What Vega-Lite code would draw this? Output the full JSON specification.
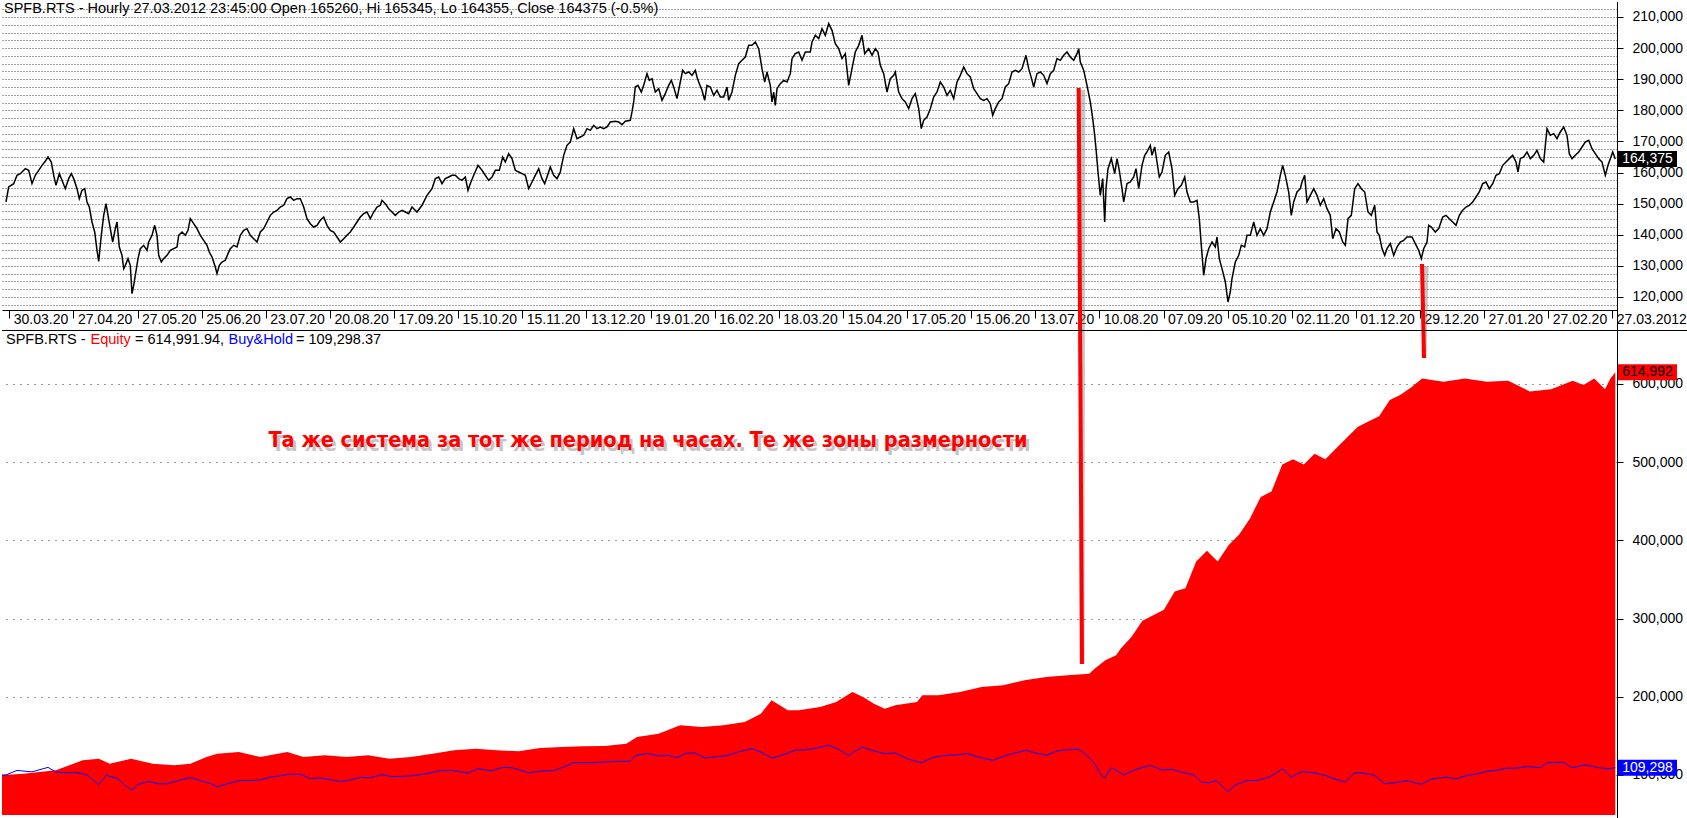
{
"$schema": "https://vega.github.io/schema/vega-lite/v6.json",
"width": 1615,
"height": 818,
"padding": 0,
"autosize": {"type": "pad"},
"background": "#ffffff",
"config": {"view": {"stroke": null}, "font": "Liberation Sans", "axis": {"labelFont": "Liberation Sans", "labelColor": "#000000", "domainColor": "#000000", "tickColor": "#000000", "title": null}},
"datasets": {
"price": [
{"x":4,"p":150540},{"x":6.7,"p":155360},{"x":11.7,"p":156430},{"x":15,"p":159110},{"x":18.3,"p":159640},{"x":23.3,"p":161250},{"x":26.7,"p":160720},{"x":30,"p":156430},{"x":33.3,"p":159110},{"x":36.7,"p":160720},{"x":40,"p":162320},{"x":43.3,"p":163610},{"x":46,"p":165000},{"x":49.3,"p":163390},{"x":51.7,"p":159110},{"x":54,"p":155890},{"x":57.3,"p":159640},{"x":60,"p":157500},{"x":63.3,"p":154820},{"x":66.7,"p":158040},{"x":69.3,"p":159640},{"x":71.7,"p":158040},{"x":75,"p":154820},{"x":77.3,"p":151610},{"x":80,"p":154290},{"x":82.7,"p":154820},{"x":85,"p":150540},{"x":87.3,"p":148930},{"x":90,"p":144110},{"x":92.7,"p":140890},{"x":95,"p":135000},{"x":96.7,"p":131470},{"x":99.3,"p":139820},{"x":101.7,"p":146250},{"x":104,"p":150000},{"x":106,"p":146250},{"x":108.3,"p":141970},{"x":110.7,"p":137680},{"x":113.3,"p":141970},{"x":115,"p":144110},{"x":117.3,"p":136070},{"x":120,"p":133390},{"x":121.7,"p":129110},{"x":123.3,"p":130180},{"x":126,"p":132320},{"x":128.3,"p":130180},{"x":130,"p":121070},{"x":131.7,"p":123750},{"x":133.3,"p":126970},{"x":136,"p":132320},{"x":138.3,"p":135540},{"x":141.7,"p":136610},{"x":145,"p":135000},{"x":146.7,"p":137680},{"x":150,"p":139820},{"x":152.7,"p":143040},{"x":155,"p":139820},{"x":156.7,"p":133390},{"x":159.3,"p":131250},{"x":161.7,"p":132320},{"x":165,"p":133390},{"x":168.3,"p":135000},{"x":171.7,"p":135540},{"x":175,"p":136070},{"x":176.7,"p":139820},{"x":180,"p":140890},{"x":183.3,"p":139820},{"x":186,"p":141430},{"x":188.3,"p":145180},{"x":191.7,"p":143570},{"x":195,"p":141970},{"x":198.3,"p":139820},{"x":201.7,"p":138220},{"x":205,"p":136610},{"x":207.3,"p":134470},{"x":210,"p":132860},{"x":213.3,"p":129650},{"x":215,"p":127500},{"x":217.3,"p":130180},{"x":220,"p":131250},{"x":223.3,"p":131790},{"x":226,"p":133930},{"x":228.3,"p":135540},{"x":231.7,"p":136610},{"x":235,"p":136070},{"x":238.3,"p":139820},{"x":241.7,"p":141430},{"x":245,"p":141970},{"x":248.3,"p":139820},{"x":251.7,"p":138750},{"x":255,"p":137680},{"x":258.3,"p":140890},{"x":261.7,"p":141970},{"x":265,"p":144110},{"x":268.3,"p":146250},{"x":271.7,"p":147320},{"x":275,"p":147860},{"x":278.3,"p":148930},{"x":281.7,"p":149470},{"x":285,"p":151610},{"x":288.3,"p":152140},{"x":291.7,"p":151070},{"x":295,"p":151610},{"x":298.3,"p":151610},{"x":301.7,"p":148930},{"x":305,"p":145180},{"x":308.3,"p":143570},{"x":311.7,"p":142500},{"x":315,"p":143040},{"x":318.3,"p":144640},{"x":321.7,"p":145720},{"x":325,"p":143040},{"x":328.3,"p":141430},{"x":331.7,"p":140890},{"x":335,"p":139290},{"x":338.3,"p":137680},{"x":341.7,"p":138750},{"x":345,"p":139820},{"x":348.3,"p":140890},{"x":351.7,"p":142500},{"x":355,"p":144110},{"x":358.3,"p":145720},{"x":361.7,"p":146790},{"x":365,"p":147320},{"x":368.3,"p":145180},{"x":371.7,"p":147320},{"x":375,"p":148930},{"x":378.3,"p":149470},{"x":380,"p":151070},{"x":383.3,"p":150000},{"x":386.7,"p":148390},{"x":390,"p":147320},{"x":393.3,"p":146250},{"x":396.7,"p":147320},{"x":400,"p":147860},{"x":403.3,"p":147320},{"x":406.7,"p":146790},
{"x":410,"p":148930},{"x":415,"p":147320},{"x":420,"p":149470},{"x":425,"p":152680},{"x":430,"p":154820},{"x":433.3,"p":158040},{"x":436.7,"p":158570},{"x":440,"p":156430},{"x":443.3,"p":158040},{"x":446.7,"p":158570},{"x":450,"p":159110},{"x":453.3,"p":159110},{"x":456.7,"p":158040},{"x":460,"p":157500},{"x":463.3,"p":158570},{"x":466,"p":154290},{"x":468.3,"p":156430},{"x":471.7,"p":159110},{"x":476,"p":162320},{"x":480,"p":160720},{"x":483.3,"p":159110},{"x":486.7,"p":157500},{"x":490,"p":158570},{"x":493.3,"p":160720},{"x":497.3,"p":160720},{"x":500.7,"p":165000},{"x":503.3,"p":163390},{"x":506.7,"p":166070},{"x":510,"p":164470},{"x":513.3,"p":160720},{"x":516.7,"p":160180},{"x":520,"p":159640},{"x":523.3,"p":159110},{"x":526.7,"p":154820},{"x":530,"p":156970},{"x":533.3,"p":159110},{"x":536.7,"p":161250},{"x":540,"p":158040},{"x":542.7,"p":156430},{"x":545,"p":158570},{"x":548.3,"p":161790},{"x":551.7,"p":159110},{"x":555,"p":158040},{"x":558.3,"p":160180},{"x":561.7,"p":165540},{"x":565,"p":168750},{"x":568.3,"p":169820},{"x":571.7,"p":174110},{"x":575,"p":170890},{"x":578.3,"p":171430},{"x":581.7,"p":171970},{"x":585,"p":174110},{"x":588.3,"p":173570},{"x":591.7,"p":175180},{"x":595,"p":174110},{"x":598.3,"p":174640},{"x":601.7,"p":174110},{"x":605,"p":174640},{"x":608.3,"p":176250},{"x":613.3,"p":176470},{"x":616.7,"p":176250},{"x":620,"p":175390},{"x":623.3,"p":176470},{"x":628.3,"p":176790},{"x":630,"p":179470},{"x":631.7,"p":182680},{"x":633.3,"p":187500},{"x":636,"p":188040},{"x":639.3,"p":185890},{"x":641.7,"p":188040},{"x":645,"p":191790},{"x":647.3,"p":189640},{"x":650,"p":190180},{"x":653.3,"p":185890},{"x":656.7,"p":186970},{"x":660,"p":183220},{"x":663.3,"p":185360},{"x":666.7,"p":188040},{"x":669.3,"p":189640},{"x":671.7,"p":187500},{"x":675,"p":183750},{"x":678.3,"p":189110},{"x":680.7,"p":192860},{"x":683.3,"p":191790},{"x":686.7,"p":192320},{"x":690,"p":191250},{"x":693.3,"p":192860},{"x":695,"p":190710},{"x":696.7,"p":189110},{"x":700,"p":186430},{"x":702.7,"p":183220},{"x":705,"p":188040},{"x":708.3,"p":187500},{"x":711.7,"p":184820},{"x":715,"p":186430},{"x":718.3,"p":184290},{"x":721.7,"p":184290},{"x":725,"p":187500},{"x":726.7,"p":183220},{"x":730,"p":185890},{"x":733.3,"p":191250},{"x":736.7,"p":195000},{"x":740,"p":196070},{"x":743.3,"p":197140},{"x":746.7,"p":200890},{"x":750,"p":200890},{"x":753.3,"p":201960},{"x":756.7,"p":199820},{"x":760,"p":193390},{"x":762.7,"p":189110},{"x":765,"p":192320},{"x":768.3,"p":188040},{"x":770,"p":182680},{"x":771.7,"p":185890},{"x":773.3,"p":181610},{"x":775,"p":186970},{"x":778.3,"p":188570},{"x":781.7,"p":189640},{"x":785,"p":189110},{"x":788.3,"p":191790},{"x":790,"p":196610},{"x":793.3,"p":198210},{"x":796.7,"p":198750},{"x":800,"p":196070},{"x":803.3,"p":198750},{"x":808.3,"p":198750},{"x":810,"p":201960},{"x":813.3,"p":204110},{"x":816.7,"p":203040},
{"x":820,"p":206250},{"x":823.3,"p":204110},{"x":826.7,"p":207860},{"x":830,"p":205710},{"x":833.3,"p":201430},{"x":836.7,"p":199820},{"x":840,"p":196610},{"x":843.3,"p":198210},{"x":846.7,"p":188040},{"x":850,"p":193390},{"x":853.3,"p":198750},{"x":856.7,"p":200890},{"x":860,"p":204110},{"x":862.7,"p":198210},{"x":866.7,"p":199820},{"x":870,"p":197680},{"x":873.3,"p":199820},{"x":876,"p":198750},{"x":878.3,"p":194460},{"x":881.7,"p":191790},{"x":885,"p":185890},{"x":888.3,"p":190180},{"x":891.7,"p":191250},{"x":893.3,"p":192320},{"x":896.7,"p":185890},{"x":900,"p":183750},{"x":903.3,"p":182680},{"x":906.7,"p":180540},{"x":910,"p":183750},{"x":913.3,"p":185360},{"x":916.7,"p":180540},{"x":919.3,"p":174110},{"x":921.7,"p":176790},{"x":925,"p":177860},{"x":928.3,"p":180540},{"x":931.7,"p":184290},{"x":935,"p":185890},{"x":938.3,"p":189110},{"x":941.7,"p":187500},{"x":945,"p":184820},{"x":948.3,"p":186430},{"x":951.7,"p":183750},{"x":955,"p":189110},{"x":958.3,"p":191250},{"x":961.7,"p":193930},{"x":965,"p":191790},{"x":968.3,"p":190710},{"x":971.7,"p":186970},{"x":975,"p":185360},{"x":978.3,"p":183750},{"x":981.7,"p":183220},{"x":985,"p":183750},{"x":988.3,"p":182140},{"x":990.7,"p":178390},{"x":993.3,"p":180540},{"x":996.7,"p":182680},{"x":1000,"p":183750},{"x":1003.3,"p":187500},{"x":1006.7,"p":188570},{"x":1010,"p":192320},{"x":1013.3,"p":192860},{"x":1016.7,"p":192320},{"x":1020,"p":193390},{"x":1024,"p":197680},{"x":1026.7,"p":193390},{"x":1030,"p":189640},{"x":1031.7,"p":187500},{"x":1035,"p":191790},{"x":1038.3,"p":192320},{"x":1041.7,"p":191250},{"x":1045,"p":188570},{"x":1048.3,"p":191790},{"x":1051.7,"p":192860},{"x":1055,"p":196610},{"x":1058.3,"p":196070},{"x":1061.7,"p":197680},{"x":1065,"p":198750},{"x":1068.3,"p":197140},{"x":1071.7,"p":196070},{"x":1075,"p":198210},{"x":1076.7,"p":199820},{"x":1078.3,"p":195540},{"x":1081.7,"p":192860},{"x":1085,"p":188040},{"x":1088.3,"p":182680},{"x":1090.7,"p":177320},{"x":1092.7,"p":171970},{"x":1094,"p":167680},{"x":1096,"p":160180},{"x":1098.3,"p":152680},{"x":1100.7,"p":158040},{"x":1102.7,"p":144110},{"x":1104,"p":154820},{"x":1106,"p":161250},{"x":1109.3,"p":164470},{"x":1112.7,"p":159640},{"x":1115,"p":164470},{"x":1117.3,"p":160720},{"x":1120,"p":154820},{"x":1121.7,"p":150540},{"x":1125,"p":156430},{"x":1128.3,"p":156970},{"x":1131.7,"p":158570},{"x":1134,"p":161250},{"x":1136.7,"p":154820},{"x":1140,"p":162320},{"x":1142.7,"p":165540},{"x":1145,"p":166610},{"x":1148.3,"p":168750},{"x":1150,"p":165540},{"x":1152.7,"p":168220},{"x":1155,"p":163390},{"x":1157.3,"p":158570},{"x":1160,"p":160180},{"x":1163.3,"p":165540},{"x":1166.7,"p":166610},{"x":1170,"p":161250},{"x":1172.7,"p":152680},{"x":1176,"p":154820},{"x":1179.3,"p":155890},{"x":1182.7,"p":158570},{"x":1185,"p":153750},{"x":1188.3,"p":150540},{"x":1191.7,"p":150540},{"x":1195,"p":151070},{"x":1197.3,"p":145180},{"x":1199.3,"p":136610},{"x":1201.7,"p":126970},{"x":1204,"p":132320},{"x":1206.7,"p":135540},{"x":1210,"p":137680},{"x":1213.3,"p":136070},{"x":1215,"p":139290},{"x":1217.3,"p":132320},{"x":1220,"p":129110},{"x":1223.3,"p":124820},{"x":1226,"p":118400},{"x":1228.3,"p":121610},
{"x":1230,"p":125900},{"x":1233.3,"p":131250},{"x":1236.7,"p":133390},{"x":1239.3,"p":136610},{"x":1242.7,"p":136070},{"x":1245,"p":139820},{"x":1248.3,"p":139820},{"x":1251.7,"p":144110},{"x":1255,"p":139820},{"x":1258.3,"p":141970},{"x":1261.7,"p":139820},{"x":1265,"p":141970},{"x":1268.3,"p":147320},{"x":1271.7,"p":150540},{"x":1275,"p":153750},{"x":1278.3,"p":159110},{"x":1280.7,"p":162320},{"x":1283.3,"p":159110},{"x":1286.7,"p":153750},{"x":1289.3,"p":146250},{"x":1291.7,"p":150540},{"x":1295,"p":153750},{"x":1298.3,"p":154820},{"x":1300,"p":156970},{"x":1302.7,"p":159110},{"x":1305,"p":150540},{"x":1308.3,"p":152680},{"x":1311.7,"p":154820},{"x":1315,"p":152680},{"x":1318.3,"p":149470},{"x":1321.7,"p":151610},{"x":1325,"p":148390},{"x":1328.3,"p":146250},{"x":1330.7,"p":138750},{"x":1334,"p":141970},{"x":1337.3,"p":140890},{"x":1340.7,"p":137680},{"x":1343.3,"p":136610},{"x":1346,"p":145180},{"x":1349.3,"p":146250},{"x":1352.7,"p":154820},{"x":1356,"p":156430},{"x":1359.3,"p":154820},{"x":1362.7,"p":153750},{"x":1366,"p":147320},{"x":1369.3,"p":146250},{"x":1372.7,"p":149470},{"x":1375,"p":140890},{"x":1377.3,"p":139820},{"x":1380,"p":135540},{"x":1382.7,"p":133390},{"x":1385,"p":135540},{"x":1388.3,"p":137150},{"x":1391.7,"p":133390},{"x":1395,"p":136070},{"x":1398.3,"p":137680},{"x":1401.7,"p":138220},{"x":1405,"p":139290},{"x":1410,"p":139290},{"x":1413.3,"p":137150},{"x":1416.7,"p":135000},{"x":1419.3,"p":132320},{"x":1421.7,"p":135540},{"x":1425,"p":137680},{"x":1426.7,"p":143040},{"x":1429.3,"p":142500},{"x":1433.3,"p":140890},{"x":1436.7,"p":141970},{"x":1440.7,"p":145720},{"x":1444,"p":146250},{"x":1447.3,"p":145180},{"x":1450.7,"p":144110},{"x":1454,"p":143040},{"x":1457.3,"p":146250},{"x":1460.7,"p":147860},{"x":1464,"p":148930},{"x":1467.3,"p":149470},{"x":1470.7,"p":150540},{"x":1474,"p":152140},{"x":1477.3,"p":153750},{"x":1480.7,"p":156430},{"x":1484,"p":156970},{"x":1487.3,"p":154820},{"x":1490.7,"p":156430},{"x":1494,"p":159110},{"x":1497.3,"p":159640},{"x":1500.7,"p":162320},{"x":1504,"p":163390},{"x":1507.3,"p":164470},{"x":1510.7,"p":165540},{"x":1514,"p":163390},{"x":1516,"p":160180},{"x":1518.3,"p":164470},{"x":1521.7,"p":165000},{"x":1525,"p":166610},{"x":1528.3,"p":164470},{"x":1531.7,"p":165540},{"x":1535,"p":167140},{"x":1538.3,"p":164470},{"x":1541.7,"p":163390},{"x":1545,"p":174110},{"x":1548.3,"p":171970},{"x":1551.7,"p":172500},{"x":1555,"p":170890},{"x":1558.3,"p":173040},{"x":1561.7,"p":174640},{"x":1565,"p":171970},{"x":1567.3,"p":166070},{"x":1570,"p":164470},{"x":1573.3,"p":165540},{"x":1576.7,"p":166610},{"x":1580,"p":168220},{"x":1583.3,"p":169820},{"x":1586.7,"p":170360},{"x":1590,"p":167680},{"x":1593.3,"p":166070},{"x":1596.7,"p":164470},{"x":1600,"p":163390},{"x":1603.3,"p":159110},{"x":1606,"p":162320},{"x":1608.3,"p":164470},{"x":1610.7,"p":166610},{"x":1613.3,"p":164375}
],
"bh": [
{"x":0,"b":100000},{"x":4,"b":100110},{"x":15,"b":105810},{"x":30,"b":104030},{"x":46,"b":109720},{"x":54,"b":103670},{"x":63.3,"b":102960},{"x":75,"b":102960},{"x":85,"b":100110},{"x":96.7,"b":87430},{"x":104,"b":99750},{"x":115,"b":95830},{"x":123.3,"b":86570},{"x":130,"b":80510},{"x":136,"b":87990},{"x":146.7,"b":91560},{"x":156.7,"b":88700},{"x":165,"b":88700},{"x":176.7,"b":92980},{"x":188.3,"b":96540},{"x":198.3,"b":92980},{"x":210,"b":88350},{"x":215,"b":84790},{"x":226,"b":89060},{"x":238.3,"b":92980},{"x":248.3,"b":92980},{"x":258.3,"b":93690},{"x":268.3,"b":97260},{"x":278.3,"b":99040},{"x":288.3,"b":101170},{"x":298.3,"b":100820},{"x":308.3,"b":95480},{"x":318.3,"b":96190},{"x":328.3,"b":94050},{"x":338.3,"b":91560},{"x":348.3,"b":93690},{"x":358.3,"b":96900},{"x":368.3,"b":96540},{"x":380,"b":100460},{"x":390,"b":97970},{"x":400,"b":98330},{"x":410,"b":99040},{"x":425,"b":101530},{"x":436.7,"b":105450},{"x":450,"b":105810},{"x":466,"b":102600},{"x":476,"b":107940},{"x":490,"b":105450},{"x":500.7,"b":109720},{"x":510,"b":109370},{"x":526.7,"b":102960},{"x":540,"b":105100},{"x":551.7,"b":105810},{"x":561.7,"b":110080},{"x":571.7,"b":115780},{"x":585,"b":115780},{"x":598.3,"b":116140},{"x":613.3,"b":117350},{"x":628.3,"b":117570},{"x":633.3,"b":124690},{"x":645,"b":127540},{"x":656.7,"b":124340},{"x":666.7,"b":125050},{"x":675,"b":122190},{"x":683.3,"b":127540},{"x":693.3,"b":128250},{"x":702.7,"b":121840},{"x":711.7,"b":122910},{"x":725,"b":124690},{"x":736.7,"b":129680},{"x":750,"b":133590},{"x":760,"b":128600},{"x":770,"b":121480},{"x":781.7,"b":126110},{"x":793.3,"b":131810},{"x":803.3,"b":132170},{"x":816.7,"b":135020},{"x":826.7,"b":138230},{"x":836.7,"b":132880},{"x":846.7,"b":125050},{"x":860,"b":135730},{"x":870,"b":131460},{"x":881.7,"b":127540},{"x":893.3,"b":127890},{"x":906.7,"b":120060},{"x":919.3,"b":115780},{"x":931.7,"b":122550},{"x":941.7,"b":124690},{"x":955,"b":125760},{"x":965,"b":127540},{"x":978.3,"b":122190},{"x":990.7,"b":118630},{"x":1003.3,"b":124690},{"x":1013.3,"b":128250},{"x":1024,"b":131460},{"x":1035,"b":127540},{"x":1045,"b":125400},{"x":1055,"b":130750},{"x":1065,"b":132170},{"x":1076.7,"b":132880},{"x":1085,"b":125050},{"x":1092.7,"b":114360},{"x":1098.3,"b":101530},{"x":1102.7,"b":95830},{"x":1109.3,"b":109370},{"x":1121.7,"b":100110},{"x":1134,"b":107230},{"x":1148.3,"b":112220},{"x":1160,"b":106520},{"x":1170,"b":107230},{"x":1179.3,"b":103670},{"x":1191.7,"b":100110},{"x":1199.3,"b":90850},{"x":1206.7,"b":90130},{"x":1215,"b":92630},{"x":1220,"b":85860},{"x":1226,"b":78740},{"x":1233.3,"b":87280},{"x":1245,"b":92980},{"x":1255,"b":92980},{"x":1268.3,"b":97970},{"x":1280.7,"b":107940},{"x":1289.3,"b":97260},{"x":1300,"b":104390},{"x":1311.7,"b":102960},{"x":1325,"b":98680},{"x":1334,"b":94410},{"x":1343.3,"b":90850},{"x":1352.7,"b":102960},{"x":1362.7,"b":102240},{"x":1372.7,"b":99400},{"x":1382.7,"b":88700},{"x":1395,"b":90490},{"x":1405,"b":92630},{"x":1419.3,"b":87990},{"x":1429.3,"b":94760},{"x":1444,"b":97260},{"x":1454,"b":95120},{"x":1464,"b":99040},{"x":1474,"b":101170},{"x":1484,"b":104390},{"x":1494,"b":105810},{"x":1504,"b":108650},{"x":1514,"b":108650},{"x":1525,"b":110790},{"x":1538.3,"b":109370},{"x":1545,"b":115780},{"x":1561.7,"b":116140},{"x":1570,"b":109370},{"x":1583.3,"b":112930},{"x":1596.7,"b":109370},{"x":1606,"b":107940},{"x":1613.3,"b":109298}
],
"equity": [
{"x":0,"e":100000},{"x":5.4,"e":100200},{"x":21.5,"e":101700},{"x":53.8,"e":105960},{"x":80.7,"e":118750},{"x":96.9,"e":120880},{"x":107.6,"e":114480},{"x":129.2,"e":120880},{"x":150.7,"e":114480},{"x":172.2,"e":112350},{"x":188.4,"e":114480},{"x":204.5,"e":123010},{"x":215.3,"e":127270},{"x":236.8,"e":129400},{"x":258.3,"e":123010},{"x":285.3,"e":129400},{"x":301.4,"e":123010},{"x":322.9,"e":125140},{"x":344.5,"e":123010},{"x":366,"e":125140},{"x":387.5,"e":120880},{"x":409,"e":123010},{"x":430.6,"e":127270},{"x":452.1,"e":131530},{"x":473.6,"e":133660},{"x":495.2,"e":131530},{"x":516.7,"e":130250},{"x":538.2,"e":134510},{"x":559.7,"e":135790},{"x":581.3,"e":136650},{"x":602.8,"e":137070},{"x":624.3,"e":140050},{"x":635.1,"e":148580},{"x":656.6,"e":152850},{"x":678.1,"e":163500},{"x":699.7,"e":161380},{"x":721.2,"e":163500},{"x":742.7,"e":167760},{"x":758.9,"e":178420},{"x":769.6,"e":195470},{"x":785.8,"e":182680},{"x":796.6,"e":182680},{"x":818.1,"e":186950},{"x":834.2,"e":193340},{"x":850.4,"e":206130},{"x":861.1,"e":199730},{"x":871.9,"e":191210},{"x":882.7,"e":184820},{"x":893.4,"e":189080},{"x":915,"e":193340},{"x":920.3,"e":201870},{"x":936.5,"e":201870},{"x":958,"e":206130},{"x":979.5,"e":212520},{"x":1001.1,"e":214660},{"x":1022.6,"e":221050},{"x":1044.1,"e":225310},{"x":1065.7,"e":227440},{"x":1087.2,"e":229580},{"x":1092.6,"e":235970},{"x":1103.3,"e":246630},{"x":1114.1,"e":253020},{"x":1119,"e":262000},{"x":1129.6,"e":276800},{"x":1140.4,"e":297400},{"x":1151.2,"e":304300},{"x":1161.9,"e":311200},{"x":1172.7,"e":334600},{"x":1183.4,"e":338700},{"x":1194.2,"e":373100},{"x":1204.9,"e":386800},{"x":1215.7,"e":373100},{"x":1226.5,"e":393700},{"x":1237.2,"e":407500},{"x":1248,"e":428100},{"x":1258.7,"e":455600},{"x":1269.5,"e":462600},{"x":1280.3,"e":496900},{"x":1291,"e":503800},{"x":1301.8,"e":496900},{"x":1312.5,"e":510700},{"x":1323.3,"e":503800},{"x":1334,"e":517500},{"x":1344.8,"e":531300},{"x":1355.6,"e":545000},{"x":1366.3,"e":551900},{"x":1377.1,"e":558800},{"x":1387.8,"e":579500},{"x":1398.6,"e":586300},{"x":1409.4,"e":596000},{"x":1420.1,"e":607000},{"x":1441.6,"e":602800},{"x":1463.1,"e":607000},{"x":1484.7,"e":602800},{"x":1506.2,"e":604200},{"x":1527.7,"e":590500},{"x":1549.2,"e":593200},{"x":1570.7,"e":604200},{"x":1581.5,"e":598700},{"x":1592.3,"e":607000},{"x":1603,"e":593200},{"x":1608.4,"e":607000},{"x":1613.3,"e":614992}
]
},
"layer": [
{"data": {"name": "price"},
 "mark": {"type": "line", "color": "#000000", "strokeWidth": 1.5},
 "encoding": {
  "x": {"field": "x", "type": "quantitative", "scale": {"domain": [0, 1615], "nice": false, "zero": false},
   "axis": {"orient": "bottom", "offset": -510, "values": [7.3,71.4,135.5,199.7,263.8,327.9,392,456.1,520.3,584.4,648.5,712.6,776.7,840.9,905,969.1,1033.2,1097.3,1161.5,1225.6,1289.7,1353.8,1417.9,1482.1,1546.2,1610.3],
    "labelExpr": "['30.03.20','27.04.20','27.05.20','25.06.20','23.07.20','20.08.20','17.09.20','15.10.20','15.11.20','13.12.20','19.01.20','16.02.20','18.03.20','15.04.20','17.05.20','15.06.20','13.07.20','10.08.20','07.09.20','05.10.20','02.11.20','01.12.20','29.12.20','27.01.20','27.02.20','27.03.2012'][round((datum.value-7.3)/64.12)]",
    "labelAlign": "left", "labelOffset": 4, "labelFlush": false, "labelOverlap": false, "labelBound": false, "labelFontSize": 14, "tickSize": 8, "labelPadding": -6, "grid": false, "domainWidth": 1}},
  "y": {"field": "p", "type": "quantitative", "scale": {"domain": [115821, 214821], "range": [308, 0], "nice": false, "zero": false},
   "axis": {"orient": "right", "values": [117500,120000,122500,125000,127500,130000,132500,135000,137500,140000,142500,145000,147500,150000,152500,155000,157500,160000,162500,165000,167500,170000,172500,175000,177500,180000,182500,185000,187500,190000,192500,195000,197500,200000,202500,205000,207500,210000,212500],
    "format": ",d",
    "labelExpr": "datum.value % 10000 == 0 ? datum.label : ''",
    "tickOpacity": {"condition": {"test": "datum.value % 10000 == 0", "value": 1}, "value": 0},
    "tickSize": 6, "labelPadding": 9, "labelFontSize": 14, "labelOverlap": false, "labelBaseline": "middle",
    "grid": true, "gridDash": [1, 2], "gridColor": "#000000", "gridOpacity": 0.75, "gridWidth": 1}}
 }},
{
"layer": [
{"data": {"name": "equity"},
 "mark": {"type": "area", "color": "#ff0000", "opacity": 1},
 "encoding": {
  "x": {"field": "x", "type": "quantitative"},
  "y": {"field": "e", "type": "quantitative", "scale": {"domain": [48837, 662660], "range": [813, 333], "nice": false, "zero": false},
   "axis": {"orient": "right", "values": [100000,200000,300000,400000,500000,600000], "format": ",d", "tickSize": 6, "labelPadding": 9, "labelFontSize": 14, "labelOverlap": false, "labelBaseline": "middle",
    "grid": true, "gridDash": [1, 6], "gridColor": "#000000", "gridOpacity": 0.8, "gridWidth": 1}},
  "y2": {"datum": 48837}
 }},
{"data": {"name": "bh"},
 "mark": {"type": "line", "color": "#0000ff", "strokeWidth": 1},
 "encoding": {"x": {"field": "x", "type": "quantitative"}, "y": {"field": "b", "type": "quantitative"}}},
{"data": {"values": [{}]},
 "mark": {"type": "text", "align": "left", "baseline": "top", "fontSize": 14.5, "color": "#000000", "font": "Liberation Sans"},
 "encoding": {"x": {"datum": 2, "type": "quantitative"}, "y": {"datum": 1088500, "type": "quantitative"},
  "text": {"value": "SPFB.RTS - Hourly 27.03.2012 23:45:00 Open 165260, Hi 165345, Lo 164355, Close 164375 (-0.5%)"}}},
{"data": {"values": [{}]},
 "mark": {"type": "rect", "color": "#000000"},
 "encoding": {"x": {"datum": 1616, "type": "quantitative"}, "x2": {"datum": 1675}, "y": {"datum": 898090, "type": "quantitative"}, "y2": {"datum": 877630}}},
{"data": {"values": [{}]},
 "mark": {"type": "text", "align": "center", "baseline": "middle", "fontSize": 14, "color": "#ffffff", "font": "Liberation Sans"},
 "encoding": {"x": {"datum": 1645.5, "type": "quantitative"}, "y": {"datum": 887860, "type": "quantitative"}, "text": {"value": "164,375"}}},
{"data": {"values": [{}]},
 "mark": {"type": "text", "align": "center", "baseline": "middle", "fontSize": 21.5, "fontWeight": "bold", "color": "#808080", "opacity": 0.45, "dx": 3, "dy": 4, "font": "Liberation Sans Narrow, Arial Narrow, DejaVu Sans Condensed, sans-serif"},
 "encoding": {"x": {"datum": 646, "type": "quantitative"}, "y": {"datum": 527110, "type": "quantitative"}, "text": {"value": "Та же система за тот же период на часах. Те же зоны размерности"}}},
{"data": {"values": [{}]},
 "mark": {"type": "text", "align": "center", "baseline": "middle", "fontSize": 21.5, "fontWeight": "bold", "color": "#ff0000", "font": "Liberation Sans Narrow, Arial Narrow, DejaVu Sans Condensed, sans-serif"},
 "encoding": {"x": {"datum": 646, "type": "quantitative"}, "y": {"datum": 527110, "type": "quantitative"}, "text": {"value": "Та же система за тот же период на часах. Те же зоны размерности"}}},
{"data": {"values": [{}]},
 "mark": {"type": "rule", "color": "#808080", "opacity": 0.45, "strokeWidth": 5, "xOffset": 4, "yOffset": 2},
 "encoding": {"x": {"datum": 1076.7, "type": "quantitative"}, "x2": {"datum": 1080}, "y": {"datum": 978520, "type": "quantitative"}, "y2": {"datum": 241940}}},
{"data": {"values": [{}]},
 "mark": {"type": "rule", "color": "#ff0000", "strokeWidth": 4},
 "encoding": {"x": {"datum": 1076.7, "type": "quantitative"}, "x2": {"datum": 1080}, "y": {"datum": 978520, "type": "quantitative"}, "y2": {"datum": 241940}}},
{"data": {"values": [{}]},
 "mark": {"type": "rule", "color": "#808080", "opacity": 0.45, "strokeWidth": 5, "xOffset": 4, "yOffset": 2},
 "encoding": {"x": {"datum": 1420, "type": "quantitative"}, "x2": {"datum": 1422}, "y": {"datum": 753460, "type": "quantitative"}, "y2": {"datum": 633250}}},
{"data": {"values": [{}]},
 "mark": {"type": "rule", "color": "#ff0000", "strokeWidth": 4},
 "encoding": {"x": {"datum": 1420, "type": "quantitative"}, "x2": {"datum": 1422}, "y": {"datum": 753460, "type": "quantitative"}, "y2": {"datum": 633250}}},
{"data": {"values": [{}]},
 "mark": {"type": "rule", "color": "#000000", "strokeWidth": 1},
 "encoding": {"x": {"datum": 0, "type": "quantitative"}, "x2": {"datum": 1687}, "y": {"datum": 668420, "type": "quantitative"}}},
{"data": {"values": [{}]},
 "mark": {"type": "rule", "color": "#000000", "strokeWidth": 1},
 "encoding": {"x": {"datum": 1615.5, "type": "quantitative"}, "y": {"datum": 1088500, "type": "quantitative"}, "y2": {"datum": 42440}}},
{"data": {"values": [{}]},
 "mark": {"type": "text", "align": "left", "baseline": "top", "fontSize": 14.5, "color": "#000000", "font": "Liberation Sans"},
 "encoding": {"x": {"datum": 4, "type": "quantitative"}, "y": {"datum": 665220, "type": "quantitative"}, "text": {"value": "SPFB.RTS -"}}},
{"data": {"values": [{}]},
 "mark": {"type": "text", "align": "left", "baseline": "top", "fontSize": 14.5, "color": "#ff0000", "font": "Liberation Sans"},
 "encoding": {"x": {"datum": 88.5, "type": "quantitative"}, "y": {"datum": 665220, "type": "quantitative"}, "text": {"value": "Equity"}}},
{"data": {"values": [{}]},
 "mark": {"type": "text", "align": "left", "baseline": "top", "fontSize": 14.5, "color": "#000000", "font": "Liberation Sans"},
 "encoding": {"x": {"datum": 133, "type": "quantitative"}, "y": {"datum": 665220, "type": "quantitative"}, "text": {"value": "= 614,991.94,"}}},
{"data": {"values": [{}]},
 "mark": {"type": "text", "align": "left", "baseline": "top", "fontSize": 14.5, "color": "#0000ff", "font": "Liberation Sans"},
 "encoding": {"x": {"datum": 226.5, "type": "quantitative"}, "y": {"datum": 665220, "type": "quantitative"}, "text": {"value": "Buy&Hold"}}},
{"data": {"values": [{}]},
 "mark": {"type": "text", "align": "left", "baseline": "top", "fontSize": 14.5, "color": "#000000", "font": "Liberation Sans"},
 "encoding": {"x": {"datum": 294, "type": "quantitative"}, "y": {"datum": 665220, "type": "quantitative"}, "text": {"value": "= 109,298.37"}}},
{"data": {"values": [{}]},
 "mark": {"type": "rect", "color": "#ff0000"},
 "encoding": {"x": {"datum": 1616, "type": "quantitative"}, "x2": {"datum": 1675}, "y": {"datum": 625220, "type": "quantitative"}, "y2": {"datum": 604760}}},
{"data": {"values": [{}]},
 "mark": {"type": "text", "align": "center", "baseline": "middle", "fontSize": 14, "color": "#000000", "font": "Liberation Sans"},
 "encoding": {"x": {"datum": 1645.5, "type": "quantitative"}, "y": {"datum": 614992, "type": "quantitative"}, "text": {"value": "614,992"}}},
{"data": {"values": [{}]},
 "mark": {"type": "rect", "color": "#0000ff"},
 "encoding": {"x": {"datum": 1616, "type": "quantitative"}, "x2": {"datum": 1675}, "y": {"datum": 119530, "type": "quantitative"}, "y2": {"datum": 99070}}},
{"data": {"values": [{}]},
 "mark": {"type": "text", "align": "center", "baseline": "middle", "fontSize": 14, "color": "#ffffff", "font": "Liberation Sans"},
 "encoding": {"x": {"datum": 1645.5, "type": "quantitative"}, "y": {"datum": 109298, "type": "quantitative"}, "text": {"value": "109,298"}}}
]
}
],
"resolve": {"scale": {"y": "independent"}, "axis": {"y": "independent"}}
}
